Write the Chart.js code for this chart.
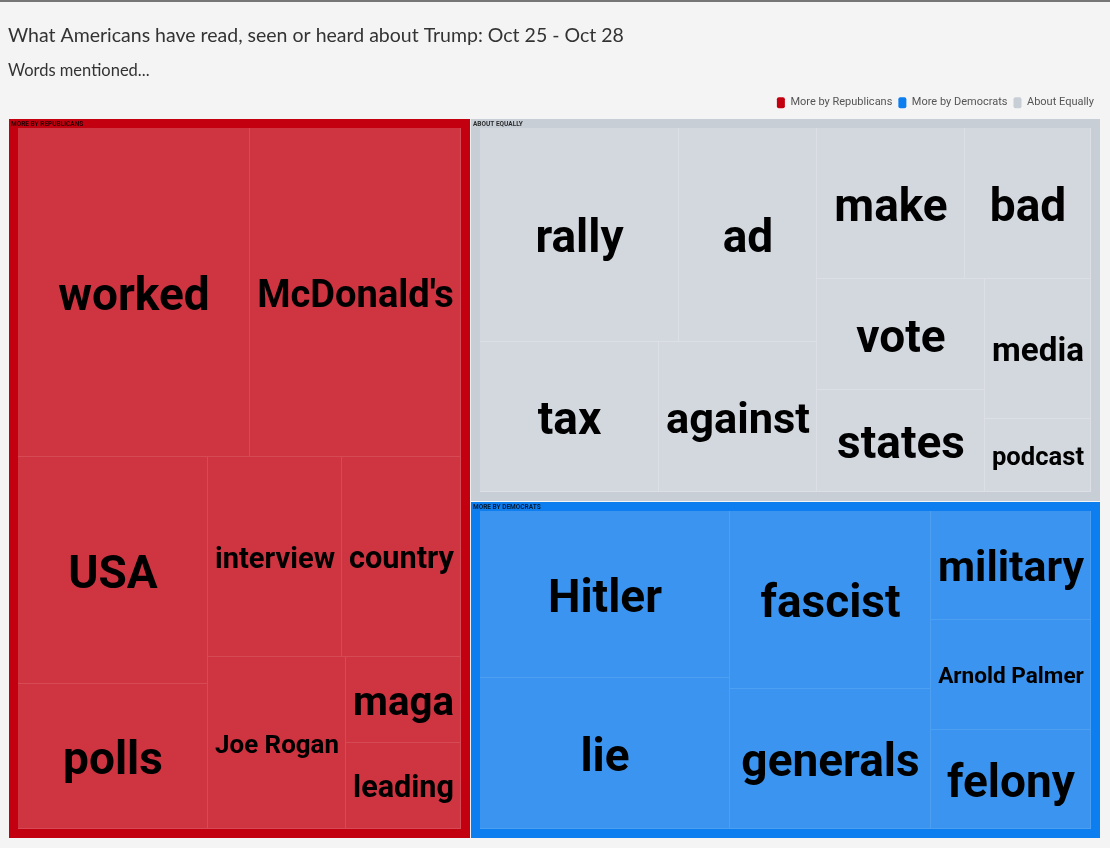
<!DOCTYPE html>
<html>
<head>
<meta charset="utf-8">
<script src="https://cdn.jsdelivr.net/npm/chart.js@4.4.1/dist/chart.umd.min.js"></script>
<style>
  html, body { margin: 0; padding: 0; background: #f4f4f4; }
  #wrap { width: 1110px; height: 846px; border-top: 2px solid #767676; }
</style>
</head>
<body>
<div id="wrap"><canvas id="chart" width="1110" height="846"></canvas></div>
<script>
// ===== Data =====
const GROUP_LABELS = ['More by Republicans', 'More by Democrats', 'About Equally'];
const GROUP_TAGS   = ['MORE BY REPUBLICANS', 'MORE BY DEMOCRATS', 'ABOUT EQUALLY'];

const REP_WORDS  = ['worked', "McDonald's", 'USA', 'polls', 'interview', 'country', 'Joe Rogan', 'maga', 'leading'];
const REP_VALUES = [82.0, 74.7, 46.3, 29.6, 28.6, 25.6, 25.3, 10.6, 10.6];

const DEM_WORDS  = ['Hitler', 'lie', 'fascist', 'generals', 'military', 'Arnold Palmer', 'felony'];
const DEM_VALUES = [45.7, 41.3, 39.2, 30.8, 19.1, 19.1, 17.1];

const EQ_WORDS  = ['rally', 'ad', 'tax', 'against', 'make', 'bad', 'vote', 'states', 'media', 'podcast'];
const EQ_VALUES = [46.5, 32.0, 29.0, 25.5, 24.4, 20.5, 20.3, 18.6, 16.1, 8.4];

// ===== Colors =====
const OUTER_COLORS = ['#c3000f', '#0c7ef0', '#c8ced6'];
const CELL_COLORS  = ['#cf3441', '#3b95f0', '#d3d8df'];
const LINE_COLORS  = ['#d64a56', '#4d9ff2', '#dce0e6'];

// ===== Layout constants (data units of the scales) =====
const AREA_W = 1092;
const AREA_H = 720;
const GROUP_PAD = 9;
const LABEL_MAX = 46;
const LABEL_PAD = 7;

// d3-style binary treemap split
function binaryLayout(items, x0, y0, x1, y1) {
  const sums = [0];
  items.forEach((d, i) => sums.push(sums[i] + d.value));
  (function partition(i, j, value, x0, y0, x1, y1) {
    if (i >= j - 1) {
      Object.assign(items[i], { x0, y0, x1, y1 });
      return;
    }
    const offset = sums[i];
    const target = value / 2 + offset;
    let k = i + 1, hi = j - 1;
    while (k < hi) {
      const mid = (k + hi) >>> 1;
      if (sums[mid] < target) k = mid + 1; else hi = mid;
    }
    if (target - sums[k - 1] < sums[k] - target && i + 1 < k) --k;
    const left = sums[k] - offset, right = value - left;
    if (x1 - x0 > y1 - y0) {
      const xk = (x0 * right + x1 * left) / value;
      partition(i, k, left, x0, y0, xk, y1);
      partition(k, j, right, xk, y0, x1, y1);
    } else {
      const yk = (y0 * right + y1 * left) / value;
      partition(i, k, left, x0, y0, x1, yk);
      partition(k, j, right, x0, yk, x1, y1);
    }
  })(0, items.length, sums[items.length], x0, y0, x1, y1);
}

// ===== Build the hierarchy =====
const wordSets = [[REP_WORDS, REP_VALUES], [DEM_WORDS, DEM_VALUES], [EQ_WORDS, EQ_VALUES]];
const groups = wordSets.map(([words, values], gi) => ({
  gi,
  children: words.map((w, i) => ({ label: w, value: values[i] })),
  value: values.reduce((s, v) => s + v, 0),
}));

binaryLayout([...groups].sort((a, b) => b.value - a.value), 0, 0, AREA_W, AREA_H);

const isCell = (c) => c.raw && c.raw.kind === 'cell';

const datasets = groups.map(g => {
  // 1px gap between groups
  const gx0 = g.x0 + 0.5, gy0 = g.y0 + 0.5, gx1 = g.x1 - 0.5, gy1 = g.y1 - 0.5;
  const kids = [...g.children].sort((a, b) => b.value - a.value);
  binaryLayout(kids, gx0 + GROUP_PAD, gy0 + GROUP_PAD, gx1 - GROUP_PAD, gy1 - GROUP_PAD);
  const rect = (d, kind, label) => ({
    kind, label,
    x: (d.x0 + d.x1) / 2, y: (d.y0 + d.y1) / 2,
    x0: d.x0, y0: d.y0, x1: d.x1, y1: d.y1,
  });
  return {
    label: GROUP_LABELS[g.gi],
    data: [rect({ x0: gx0, y0: gy0, x1: gx1, y1: gy1 }, 'group', GROUP_TAGS[g.gi])]
      .concat(kids.map(c => rect(c, 'cell', c.label))),
    backgroundColor: (c) => isCell(c) ? CELL_COLORS[g.gi] : OUTER_COLORS[g.gi],
    borderColor: LINE_COLORS[g.gi],
    borderWidth: (c) => isCell(c) ? { top: 0, left: 0, right: 1, bottom: 1 } : 0,
  };
});

// ===== Treemap rectangles drawn as bar elements through the scales =====
class TreemapController extends Chart.DatasetController {
  update(mode) {
    const meta = this._cachedMeta;
    this.updateElements(meta.data, 0, meta.data.length, mode);
  }
  updateElements(rects, start, count, mode) {
    const { xScale, yScale } = this._cachedMeta;
    const data = this.getDataset().data;
    for (let i = start; i < start + count; i++) {
      const d = data[i];
      // snap to whole pixels so neighbouring cells don't leave seams
      const left   = Math.round(xScale.getPixelForValue(d.x0));
      const right  = Math.round(xScale.getPixelForValue(d.x1));
      const top    = Math.round(yScale.getPixelForValue(d.y0));
      const bottom = Math.round(yScale.getPixelForValue(d.y1));
      this.updateElement(rects[i], i, {
        x: (left + right) / 2,
        y: top,
        base: bottom,
        width: right - left,
        height: bottom - top,
        horizontal: false,
        inflateAmount: 0,
        borderSkipped: { top: false, bottom: false, left: false, right: false },
        options: this.resolveDataElementOptions(i, mode),
      }, mode);
    }
  }
}
TreemapController.id = 'treemapRect';
TreemapController.defaults = { datasetElementType: false, dataElementType: 'bar' };
Chart.register(TreemapController);

// ===== Labels =====
const cellLabels = {
  id: 'cellLabels',
  afterDatasetsDraw(chart) {
    const ctx = chart.ctx;
    ctx.save();
    chart.data.datasets.forEach((ds, di) => {
      chart.getDatasetMeta(di).data.forEach((el, i) => {
        const d = ds.data[i];
        const left = el.x - el.width / 2;
        const w = el.width, h = el.base - el.y;
        if (d.kind === 'group') {
          ctx.font = 'bold 6.5px Roboto';
          ctx.fillStyle = 'rgba(0,0,0,0.8)';
          ctx.textAlign = 'left';
          ctx.textBaseline = 'middle';
          ctx.fillText(d.label, left + 2, el.y + 5);
          return;
        }
        let size = LABEL_MAX;
        ctx.font = `bold ${size}px Roboto`;
        const tw = ctx.measureText(d.label).width;
        if (tw > w - 2 * LABEL_PAD) size = size * (w - 2 * LABEL_PAD) / tw;
        size = Math.min(size, h * 0.6);
        ctx.font = `bold ${size.toFixed(1)}px Roboto`;
        ctx.fillStyle = '#000';
        ctx.textAlign = 'center';
        ctx.textBaseline = 'alphabetic';
        ctx.fillText(d.label, el.x, el.y + h / 2 + size * 0.37);
      });
    });
    ctx.restore();
  }
};

// ===== Chart =====
new Chart(document.getElementById('chart'), {
  type: 'treemapRect',
  data: { datasets },
  plugins: [cellLabels],
  options: {
    responsive: false,
    animation: false,
    events: [],
    layout: { padding: { left: 8, right: 10, bottom: 10, top: 0 } },
    scales: {
      x: { type: 'linear', min: 0, max: AREA_W, display: false },
      y: { type: 'linear', min: 0, max: AREA_H, reverse: true, display: false },
    },
    plugins: {
      title: {
        display: true,
        text: 'What Americans have read, seen or heard about Trump: Oct 25 - Oct 28',
        align: 'start',
        color: '#333',
        font: { family: 'Lato', size: 19.5, weight: 'normal' },
        padding: { top: 22, bottom: 5 },
      },
      subtitle: {
        display: true,
        text: 'Words mentioned...',
        align: 'start',
        color: '#333',
        font: { family: 'Lato', size: 16.5, weight: 'normal' },
        padding: { top: 8, bottom: 11 },
      },
      legend: {
        position: 'top',
        align: 'end',
        labels: {
          boxWidth: 8,
          boxHeight: 11,
          useBorderRadius: true,
          borderRadius: 2,
          padding: 6,
          color: '#555',
          font: { family: 'Roboto', size: 11 },
        },
      },
      tooltip: { enabled: false },
    },
  },
});
</script>
</body>
</html>
